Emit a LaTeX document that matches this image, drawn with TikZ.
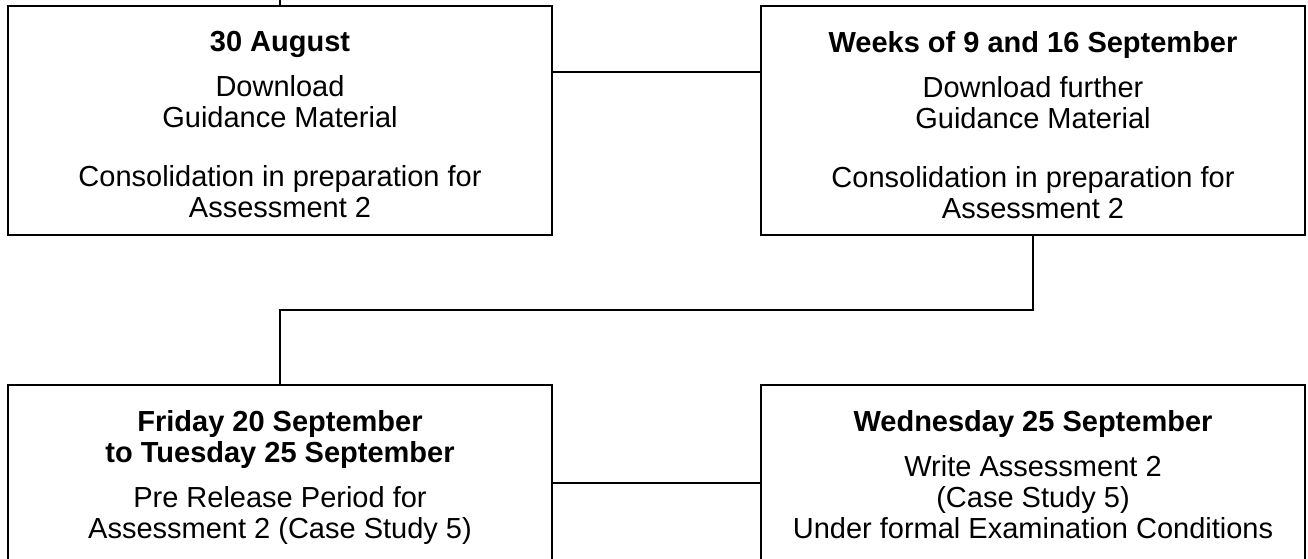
\documentclass[tikz,border=0pt]{standalone}
\usepackage{fontspec}
\setmainfont{Liberation Sans}
\usetikzlibrary{positioning,calc}

\tikzset{
  stage/.style={draw, line width=2pt, minimum width=544pt, minimum height=229pt, inner sep=0pt},
  stagetext/.style={align=center, inner sep=0pt, font=\fontsize{29}{31}\selectfont},
  link/.style={draw, line width=2pt},
}

\begin{document}
\begin{tikzpicture}[x=1pt, y=-1pt]
  \useasboundingbox (0,0) rectangle (1308,559);
  \clip (0,0) rectangle (1308,559);

  % the four boxes
  \node[stage] (aug) at (280,120.5) {};
  \node[stage] (sep) at (1033,120.5) {};
  \node[stage] (fri) at (280,499.5) {};
  \node[stage] (wed) at (1033,499.5) {};

  \node[stagetext, below=26pt of aug.north] (augtext) {\textbf{30 August}\\[14pt]
    Download\\Guidance Material\\[28pt]
    Consolidation in preparation for\\Assessment 2};
  \node[stagetext, below=26pt of sep.north] (septext) {\textbf{Weeks of 9 and 16 September}\\[14pt]
    Download further\\Guidance Material\\[28pt]
    Consolidation in preparation for\\Assessment 2};
  \node[stagetext, below=26pt of fri.north] (fritext) {\textbf{Friday 20 September}\\
    \textbf{to Tuesday 25 September}\\[14pt]
    Pre Release Period for\\Assessment 2 (Case Study 5)};
  \node[stagetext, below=26pt of wed.north] (wedtext) {\textbf{Wednesday 25 September}\\[14pt]
    Write Assessment 2\\(Case Study 5)\\Under formal Examination Conditions};

  % connectors
  \coordinate (start) at (280,0);
  \draw[link] (start) -- (aug.north);

  \coordinate (a1) at ([yshift=-66.7pt]aug.north east);
  \draw[link] (a1) -- (a1 -| sep.west);

  \coordinate (bend) at ($(sep.south)!0.5!(fri.north)$);
  \draw[link] (sep.south) |- (bend) -| (fri.north);

  \coordinate (b1) at ([yshift=-99pt]fri.north east);
  \draw[link] (b1) -- (b1 -| wed.west);
\end{tikzpicture}
\end{document}
